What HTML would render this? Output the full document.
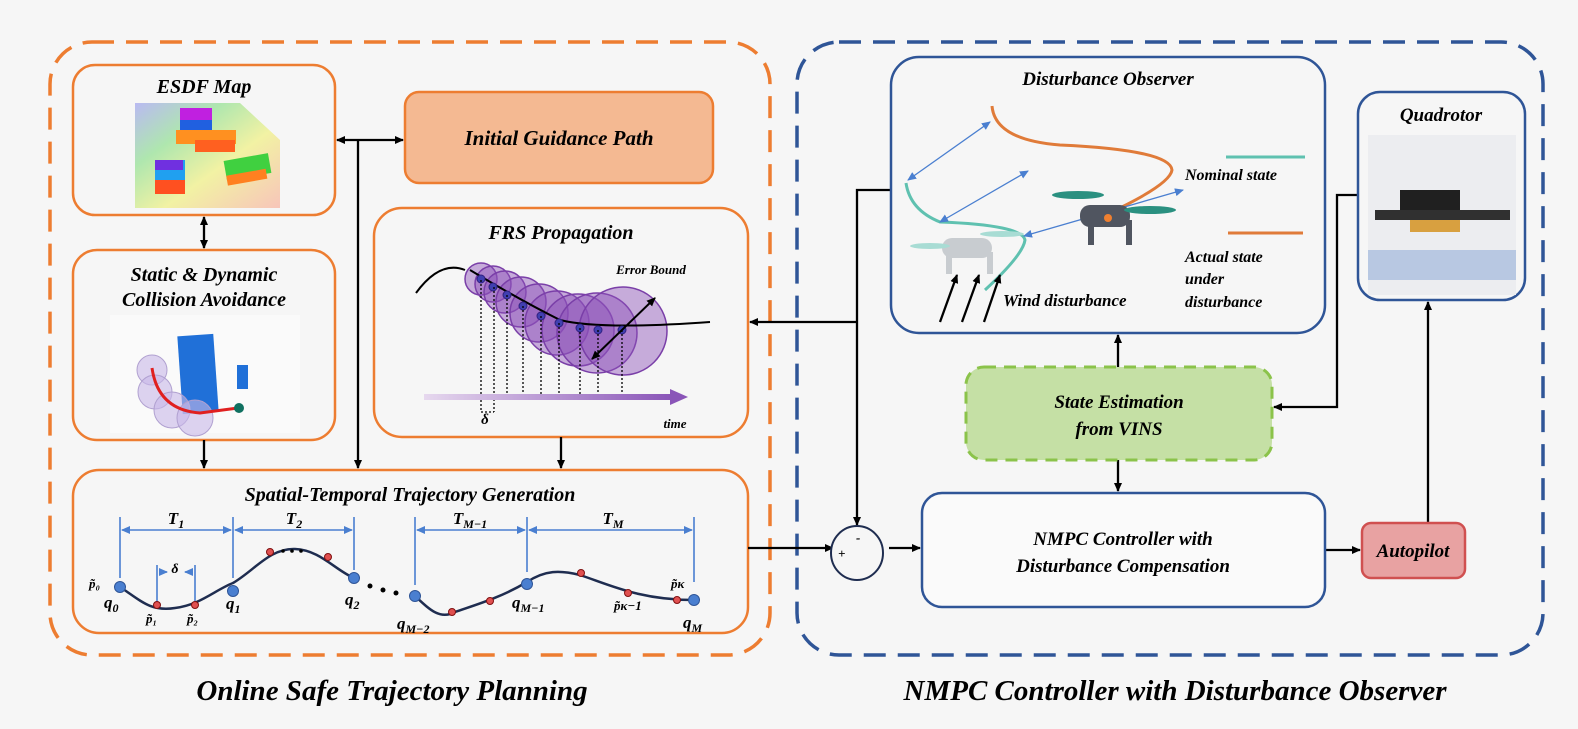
<!DOCTYPE html>
<html><head><meta charset="utf-8"><style>
html,body{margin:0;padding:0;background:#f6f6f6;}
svg{display:block;}
text{font-family:"Liberation Serif",serif;font-style:italic;font-weight:bold;}
</style></head><body>
<svg width="1578" height="729" viewBox="0 0 1578 729" xmlns="http://www.w3.org/2000/svg">
<defs>
<marker id="a" markerWidth="10" markerHeight="10" refX="8" refY="5" orient="auto-start-reverse" markerUnits="userSpaceOnUse"><path d="M0,1 L9,5 L0,9 Z" fill="#000"/></marker>
<marker id="b" markerWidth="10" markerHeight="10" refX="8" refY="5" orient="auto-start-reverse" markerUnits="userSpaceOnUse"><path d="M0,1 L9,5 L0,9 Z" fill="#4a7fd0"/></marker>
<linearGradient id="tg" x1="0" x2="1"><stop offset="0" stop-color="#e6d8ee"/><stop offset="1" stop-color="#8a55b8"/></linearGradient>
<linearGradient id="esdf" x1="0" y1="0" x2="1" y2="1"><stop offset="0" stop-color="#a0a0f0"/><stop offset="0.3" stop-color="#90e090"/><stop offset="0.6" stop-color="#f0f080"/><stop offset="1" stop-color="#f8b0a0"/></linearGradient>
</defs>
<rect width="1578" height="729" fill="#f6f6f6"/>
<rect x="50" y="42" width="720" height="613" rx="42" fill="none" stroke="#ed7d31" stroke-width="3.5" stroke-dasharray="22,12"/>
<rect x="797" y="42" width="746" height="613" rx="42" fill="none" stroke="#2f5597" stroke-width="3.5" stroke-dasharray="22,12"/>
<text x="392" y="700" font-size="29" text-anchor="middle">Online Safe Trajectory Planning</text>
<text x="1175" y="700" font-size="29" text-anchor="middle">NMPC Controller with Disturbance Observer</text>

<rect x="73" y="65" width="262" height="150" rx="22" fill="#f6f6f6" stroke="#ed7d31" stroke-width="2.5"/>
<text x="204" y="93" font-size="20" text-anchor="middle">ESDF Map</text>
<polygon points="135,103 240,103 280,140 280,208 135,208" fill="url(#esdf)" opacity="0.7"/>
<rect x="180" y="108" width="32" height="32" fill="#2060e0"/><rect x="180" y="108" width="32" height="12" fill="#c020e0"/>
<rect x="176" y="130" width="60" height="14" fill="#ff9020"/><rect x="195" y="140" width="40" height="12" fill="#ff6020"/>
<rect x="155" y="160" width="30" height="32" fill="#20a0f0"/><rect x="155" y="160" width="28" height="10" fill="#7030e0"/><rect x="155" y="180" width="30" height="14" fill="#ff5020"/>
<rect x="225" y="157" width="45" height="20" fill="#40d040" transform="rotate(-10 247 167)"/><rect x="225" y="172" width="40" height="10" fill="#ff8020" transform="rotate(-10 247 167)"/>

<rect x="405" y="92" width="308" height="91" rx="14" fill="#f4b992" stroke="#ed7d31" stroke-width="2.5"/>
<text x="559" y="145" font-size="21" text-anchor="middle">Initial Guidance Path</text>

<rect x="73" y="250" width="262" height="190" rx="24" fill="#f6f6f6" stroke="#ed7d31" stroke-width="2.5"/>
<text x="204" y="281" font-size="20" text-anchor="middle">Static &amp; Dynamic</text>
<text x="204" y="306" font-size="20" text-anchor="middle">Collision Avoidance</text>
<rect x="110" y="315" width="190" height="118" fill="#fafafa"/>
<rect x="180" y="335" width="36" height="78" fill="#2070d8" transform="rotate(-4 198 374)"/>
<rect x="237" y="365" width="11" height="24" fill="#2070d8"/>
<g fill="#c8b8e8" fill-opacity="0.6" stroke="#b0a0d0"><circle cx="152" cy="370" r="15"/><circle cx="155" cy="392" r="17"/><circle cx="172" cy="410" r="18"/><circle cx="195" cy="418" r="18"/></g>
<path d="M152,368 Q158,410 200,413 L238,408" stroke="#e02020" stroke-width="3" fill="none"/>
<circle cx="239" cy="408" r="5" fill="#107060"/>

<rect x="374" y="208" width="374" height="229" rx="28" fill="#f6f6f6" stroke="#ed7d31" stroke-width="2.5"/>
<text x="561" y="239" font-size="20" text-anchor="middle">FRS Propagation</text>
<text x="651" y="274" font-size="13" text-anchor="middle">Error Bound</text>
<path d="M416,293 Q440,260 465,270" stroke="#000" stroke-width="2" fill="none"/>
<g fill="#8c50b8" fill-opacity="0.45" stroke="#7a3fa8" stroke-width="1.5">
<circle cx="481" cy="279" r="16"/><circle cx="493" cy="284" r="18"/><circle cx="505" cy="292" r="21"/><circle cx="521" cy="302" r="25"/><circle cx="539" cy="313" r="29"/><circle cx="557" cy="323" r="32"/><circle cx="578" cy="330" r="36"/><circle cx="597" cy="333" r="40"/><circle cx="623" cy="331" r="44"/></g>
<path d="M470,270 Q520,300 560,320 Q600,330 710,322" stroke="#000" stroke-width="2" fill="none"/>
<g fill="#4040b0" stroke="#302080"><circle cx="481" cy="279" r="4"/><circle cx="493" cy="287" r="4"/><circle cx="507" cy="295" r="4"/><circle cx="523" cy="306" r="4"/><circle cx="541" cy="316" r="4"/><circle cx="559" cy="323" r="4"/><circle cx="580" cy="328" r="4"/><circle cx="598" cy="330" r="4"/><circle cx="622" cy="330" r="4"/></g>
<g stroke="#000" stroke-width="1.3" stroke-dasharray="2,2"><line x1="481" y1="280" x2="481" y2="412"/><line x1="494" y1="287" x2="494" y2="412"/><line x1="507" y1="295" x2="507" y2="397"/><line x1="523" y1="306" x2="523" y2="397"/><line x1="541" y1="316" x2="541" y2="397"/><line x1="559" y1="323" x2="559" y2="397"/><line x1="580" y1="328" x2="580" y2="397"/><line x1="598" y1="330" x2="598" y2="397"/><line x1="622" y1="330" x2="622" y2="397"/><line x1="481" y1="412" x2="494" y2="412"/></g>
<line x1="592" y1="359" x2="655" y2="298" stroke="#000" stroke-width="2" marker-start="url(#a)" marker-end="url(#a)"/>
<rect x="424" y="394" width="248" height="6" fill="url(#tg)"/>
<polygon points="670,389 688,397 670,405" fill="#8a55b8"/>
<text x="485" y="424" font-size="15" font-weight="normal" font-style="normal" text-anchor="middle">δ</text>
<text x="675" y="428" font-size="13" text-anchor="middle">time</text>

<rect x="73" y="470" width="675" height="163" rx="26" fill="#f6f6f6" stroke="#ed7d31" stroke-width="2.5"/>
<text x="410" y="501" font-size="20" text-anchor="middle">Spatial-Temporal Trajectory Generation</text>
<g stroke="#4a7fd0" stroke-width="1.6">
<line x1="120" y1="517" x2="120" y2="578"/><line x1="233" y1="517" x2="233" y2="578"/><line x1="354" y1="517" x2="354" y2="570"/>
<line x1="415" y1="517" x2="415" y2="585"/><line x1="527" y1="517" x2="527" y2="572"/><line x1="694" y1="517" x2="694" y2="582"/>
<line x1="122" y1="530" x2="231" y2="530" marker-start="url(#b)" marker-end="url(#b)"/>
<line x1="235" y1="530" x2="352" y2="530" marker-start="url(#b)" marker-end="url(#b)"/>
<line x1="417" y1="530" x2="525" y2="530" marker-start="url(#b)" marker-end="url(#b)"/>
<line x1="529" y1="530" x2="692" y2="530" marker-start="url(#b)" marker-end="url(#b)"/>
<line x1="157" y1="565" x2="157" y2="605"/><line x1="195" y1="565" x2="195" y2="605"/>
<line x1="159" y1="572" x2="167" y2="572" marker-end="url(#b)"/><line x1="193" y1="572" x2="185" y2="572" marker-end="url(#b)"/>
</g>
<g font-family="Liberation Serif" font-size="17" font-weight="normal">
<text x="176" y="524" text-anchor="middle">T<tspan font-size="12" dy="4">1</tspan></text>
<text x="294" y="524" text-anchor="middle">T<tspan font-size="12" dy="4">2</tspan></text>
<text x="470" y="524" text-anchor="middle">T<tspan font-size="12" dy="4">M−1</tspan></text>
<text x="613" y="524" text-anchor="middle">T<tspan font-size="12" dy="4">M</tspan></text>
<text x="104" y="608">q<tspan font-size="12" dy="4">0</tspan></text>
<text x="226" y="609">q<tspan font-size="12" dy="4">1</tspan></text>
<text x="345" y="605">q<tspan font-size="12" dy="4">2</tspan></text>
<text x="397" y="629">q<tspan font-size="12" dy="4">M−2</tspan></text>
<text x="512" y="608">q<tspan font-size="12" dy="4">M−1</tspan></text>
<text x="683" y="628">q<tspan font-size="12" dy="4">M</tspan></text>
</g>
<g font-size="13">
<text x="89" y="588">p̃₀</text><text x="146" y="623">p̃₁</text><text x="187" y="623">p̃₂</text><text x="614" y="610">p̃κ−1</text><text x="671" y="588">p̃κ</text>
</g>
<text x="175" y="573" font-size="14" text-anchor="middle">δ</text>
<path d="M120,587 C140,600 150,612 175,608 C200,605 215,590 233,583 C255,570 270,548 295,549 C320,550 335,570 354,578" stroke="#1f2d50" stroke-width="2.5" fill="none"/>
<path d="M415,596 C430,610 440,620 455,612 C475,605 500,598 527,582 C545,570 560,570 580,575 C610,585 640,600 694,600" stroke="#1f2d50" stroke-width="2.5" fill="none"/>
<g fill="#4a7fd0" stroke="#2f5597"><circle cx="120" cy="587" r="5.5"/><circle cx="233" cy="591" r="5.5"/><circle cx="354" cy="578" r="5.5"/><circle cx="415" cy="596" r="5.5"/><circle cx="527" cy="584" r="5.5"/><circle cx="694" cy="600" r="5.5"/></g>
<g fill="#e05050" stroke="#801010"><circle cx="157" cy="605" r="3.5"/><circle cx="195" cy="605" r="3.5"/><circle cx="270" cy="552" r="3.5"/><circle cx="328" cy="557" r="3.5"/><circle cx="452" cy="612" r="3.5"/><circle cx="490" cy="601" r="3.5"/><circle cx="581" cy="573" r="3.5"/><circle cx="628" cy="593" r="3.5"/><circle cx="677" cy="600" r="3.5"/></g>
<g fill="#000"><circle cx="283" cy="551" r="1.8"/><circle cx="292" cy="551" r="1.8"/><circle cx="301" cy="551" r="1.8"/><circle cx="370" cy="586" r="2.5"/><circle cx="383" cy="590" r="2.5"/><circle cx="396" cy="593" r="2.5"/></g>

<g stroke="#000" stroke-width="2.3" fill="none">
<line x1="337" y1="140" x2="403" y2="140" marker-start="url(#a)" marker-end="url(#a)"/>
<line x1="358" y1="140" x2="358" y2="468" marker-end="url(#a)"/>
<line x1="204" y1="217" x2="204" y2="248" marker-start="url(#a)" marker-end="url(#a)"/>
<line x1="204" y1="440" x2="204" y2="468" marker-end="url(#a)"/>
<line x1="561" y1="437" x2="561" y2="468" marker-end="url(#a)"/>
<line x1="748" y1="548" x2="833" y2="548" marker-end="url(#a)"/>
<polyline points="891,190 857,190 857,525" marker-end="url(#a)"/>
<line x1="857" y1="322" x2="750" y2="322" marker-end="url(#a)"/>
<polyline points="1358,195 1337,195 1337,407 1274,407" marker-end="url(#a)"/>
<line x1="1118" y1="367" x2="1118" y2="335" marker-end="url(#a)"/>
<line x1="1118" y1="460" x2="1118" y2="491" marker-end="url(#a)"/>
<line x1="889" y1="548" x2="920" y2="548" marker-end="url(#a)"/>
<line x1="1325" y1="550" x2="1360" y2="550" marker-end="url(#a)"/>
<line x1="1428" y1="523" x2="1428" y2="302" marker-end="url(#a)"/>
</g>

<rect x="891" y="57" width="434" height="276" rx="28" fill="#f6f6f6" stroke="#2f5597" stroke-width="2.5"/>
<text x="1108" y="85" font-size="19" text-anchor="middle">Disturbance Observer</text>
<path d="M992,106 Q995,140 1060,145 Q1170,150 1172,170 Q1170,185 1105,215" stroke="#e07b39" stroke-width="3" fill="none"/>
<path d="M906,183 Q910,210 940,222 Q1022,225 1025,240 Q1023,255 985,290" stroke="#5fc1b0" stroke-width="3" fill="none"/>
<g stroke="#4a7fd0" stroke-width="1.3"><line x1="908" y1="180" x2="990" y2="122" marker-start="url(#b)" marker-end="url(#b)"/><line x1="940" y1="222" x2="1028" y2="171" marker-start="url(#b)" marker-end="url(#b)"/><line x1="1024" y1="236" x2="1183" y2="190" marker-start="url(#b)" marker-end="url(#b)"/></g>
<g fill="#505560"><rect x="1080" y="205" width="50" height="22" rx="10"/><rect x="1088" y="220" width="6" height="25"/><rect x="1126" y="220" width="6" height="25"/></g>
<circle cx="1108" cy="218" r="4" fill="#f08030"/>
<ellipse cx="1078" cy="195" rx="26" ry="4" fill="#2a9080"/><ellipse cx="1150" cy="210" rx="26" ry="4" fill="#2a9080"/>
<g fill="#c8ccd0"><rect x="942" y="238" width="50" height="20" rx="10"/><rect x="946" y="252" width="6" height="22"/><rect x="987" y="252" width="6" height="22"/></g>
<ellipse cx="930" cy="246" rx="20" ry="3" fill="#a8dcd4"/><ellipse cx="1002" cy="234" rx="22" ry="3" fill="#a8dcd4"/>
<g stroke="#000" stroke-width="2.3"><line x1="940" y1="322" x2="957" y2="275" marker-end="url(#a)"/><line x1="962" y1="322" x2="979" y2="275" marker-end="url(#a)"/><line x1="984" y1="322" x2="1000" y2="275" marker-end="url(#a)"/></g>
<text x="1003" y="306" font-size="17">Wind disturbance</text>
<line x1="1226" y1="157" x2="1305" y2="157" stroke="#5fc1b0" stroke-width="3"/>
<text x="1185" y="180" font-size="16">Nominal state</text>
<line x1="1228" y1="233" x2="1303" y2="233" stroke="#e07b39" stroke-width="3"/>
<text x="1185" y="262" font-size="16">Actual state</text>
<text x="1185" y="284" font-size="16">under</text>
<text x="1185" y="307" font-size="16">disturbance</text>

<rect x="1358" y="92" width="167" height="208" rx="22" fill="#f6f6f6" stroke="#2f5597" stroke-width="2.5"/>
<text x="1441" y="121" font-size="19" text-anchor="middle">Quadrotor</text>
<rect x="1368" y="135" width="148" height="160" fill="#ecedf0"/>
<rect x="1368" y="250" width="148" height="30" fill="#b8c8e2"/>
<rect x="1400" y="190" width="60" height="25" fill="#202020"/><rect x="1375" y="210" width="135" height="10" fill="#303030"/><rect x="1410" y="220" width="50" height="12" fill="#d8a040"/>

<rect x="966" y="367" width="306" height="93" rx="18" fill="#c5e0a5" stroke="#8bc34a" stroke-width="3" stroke-dasharray="12,8"/>
<text x="1119" y="408" font-size="19" text-anchor="middle">State Estimation</text>
<text x="1119" y="435" font-size="19" text-anchor="middle">from VINS</text>

<rect x="922" y="493" width="403" height="114" rx="20" fill="#fafafa" stroke="#2f5597" stroke-width="2.5"/>
<text x="1123" y="545" font-size="19" text-anchor="middle">NMPC Controller with</text>
<text x="1123" y="572" font-size="19" text-anchor="middle">Disturbance Compensation</text>
<ellipse cx="857" cy="553" rx="26" ry="27" fill="#f6f6f6" stroke="#1f2d50" stroke-width="2"/>
<text x="838" y="558" font-size="13" font-style="normal">+</text>
<text x="856" y="542" font-size="13" font-style="normal">-</text>

<rect x="1362" y="523" width="103" height="55" rx="9" fill="#e8a2a2" stroke="#d05050" stroke-width="2.5"/>
<text x="1413" y="557" font-size="19" text-anchor="middle">Autopilot</text>
</svg>
</body></html>
